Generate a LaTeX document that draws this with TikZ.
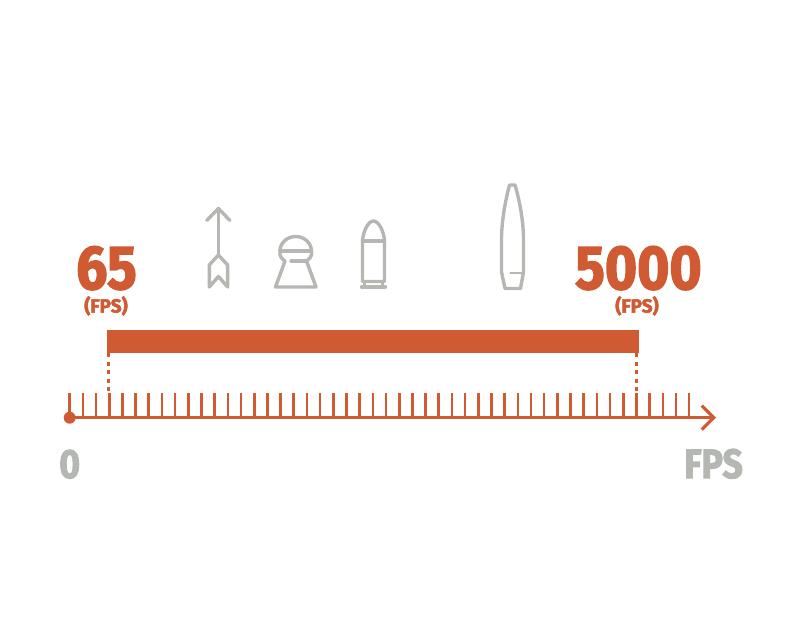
\documentclass[tikz,border=0pt]{standalone}
\usepackage{fontspec}
\usetikzlibrary{calc,positioning,arrows.meta}
\newfontfamily\fpsfont{Fira Sans}[BoldFeatures={FakeBold=2.6}]
\definecolor{rust}{HTML}{D05A32}
\definecolor{ash}{HTML}{B5B7B3}
\tikzstyle{bignum}  = [anchor=base, inner sep=0pt, text=rust, xscale=0.89, transform shape, font=\fpsfont\bfseries\fontsize{62}{62}\selectfont]
\tikzstyle{unitlab} = [anchor=base, inner sep=0pt, text=rust, font=\fpsfont\bfseries\fontsize{19}{19}\selectfont]
\tikzstyle{axislab} = [anchor=base, inner sep=0pt, text=ash, xscale=0.87, transform shape, font=\fpsfont\bfseries\fontsize{41}{41}\selectfont]
\tikzstyle{icon}    = [draw=ash, line width=3.4pt, line join=round, line cap=round]
\tikzstyle{axisline}= [draw=rust, line width=2.8pt, -{Straight Barb[length=12pt,width=24pt,line width=3.2pt]}]
\tikzstyle{tick}    = [draw=rust, line width=2.6pt]
\tikzstyle{guide}   = [draw=rust, line width=3pt, dash pattern=on 4pt off 4.5pt]

\begin{document}
\begin{tikzpicture}[x=1pt,y=-1pt]
        \useasboundingbox (0,0) rectangle (800,618);

        \node[bignum] (low) at (106.5,289) {65};
        \node[unitlab] (lowunit) at (106,312.5) {(FPS)};
        \node[bignum] (high) at (638.5,289) {5000};
        \node[unitlab] (highunit) at (637,312.5) {(FPS)};

        \node[draw=none, fill=rust, inner sep=0pt, minimum width=532pt, minimum height=23pt] (range) at (373,341.5) {};

        \coordinate (origin) at (69.7,417.7);
        \coordinate (axisend) at (716,417.7);
        \coordinate (lowtick) at (108.9,393);
        \coordinate (hightick) at (636.5,393);

        \foreach \k in {0,...,47} {
            \draw[tick] ($(origin)+(13.18*\k,0)$) -- ++(0,-25);
        }
        \draw[axisline] (origin) -- (axisend);
        \node[circle, fill=rust, inner sep=0pt, minimum size=12pt] (dot) at (origin) {};

        \draw[guide] (range.south west -| lowtick) -- (lowtick);
        \draw[guide] (range.south west -| hightick) -- (hightick);

        \node[axislab] (zero) at (69.7,478) {0};
        \node[axislab] (fps) at (713.5,478) {FPS};

        % arrow
        \draw[icon] (206.7,220.5) -- (218.4,208.5) -- (230,220.5);
        \draw[icon] (218.4,208.5) -- (218.4,255);
        \draw[icon] (218.4,255) -- (209.3,265) -- (209.3,287) -- (218.4,276.5) -- (227.6,287) -- (227.6,265) -- cycle;

        % pellet
        \draw[icon] (280,251) arc[start angle=180, end angle=360, x radius=15.7, y radius=14.5] .. controls (313,256) and (309,259) .. (306.5,261) -- (316,287) -- (275.5,287) -- (285,261) .. controls (282,259) and (279,256) .. (280,251) -- cycle;
        \draw[icon] (280,251) -- (311.4,251);
        \draw[icon] (291,261) -- (306.5,261);

        % cartridge
        \draw[icon] (362.5,281.5) -- (362.5,241) .. controls (363,232) and (368,221) .. (373.4,221) .. controls (379,221) and (384,232) .. (384.5,241) -- (384.5,281.5) -- cycle;
        \draw[icon] (362.5,241) -- (384.5,241);
        \draw[icon] (361.5,287) -- (385.5,287);
        \draw[icon] (364.5,281.5) -- (364.5,287);
        \draw[icon] (382.5,281.5) -- (382.5,287);

        % rifle bullet
        \draw[icon] (509.5,185) -- (515,185) .. controls (520,202) and (523.5,222) .. (523.5,240) -- (523.5,272) -- (520.5,288.5) -- (505,288.5) -- (501.5,272) -- (501.5,240) .. controls (501.5,222) and (505,202) .. (509.5,185) -- cycle;
        \draw[icon, line width=2.2pt] (510.5,273) -- (522.5,273);
    \end{tikzpicture}
\end{document}
